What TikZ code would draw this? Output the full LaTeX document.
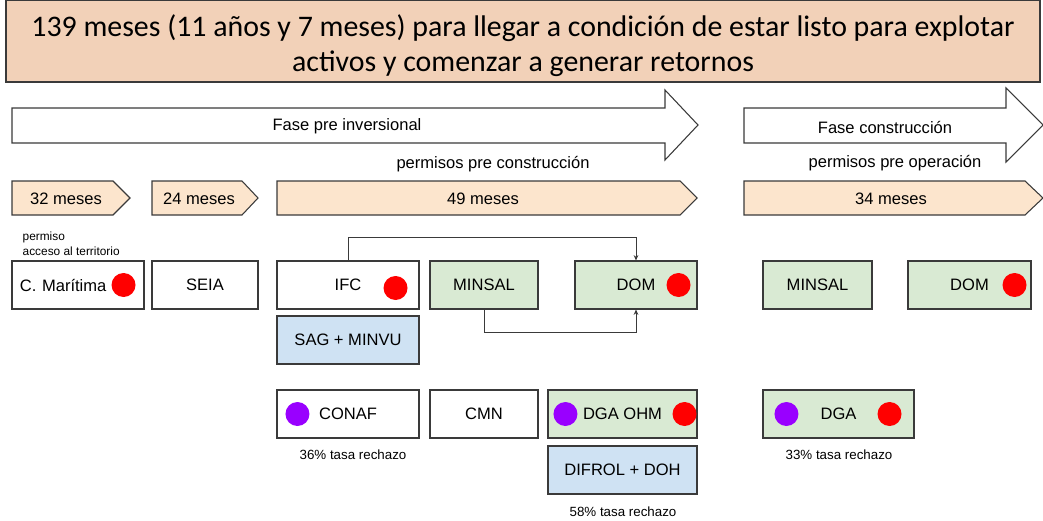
\documentclass[tikz,border=0pt]{standalone}
\usepackage{fontspec}
\setmainfont{Liberation Sans}
\newfontfamily\titlefont{Carlito}
\usetikzlibrary{positioning,arrows.meta,calc}
\definecolor{titulo}{HTML}{F2D1B8}
\definecolor{naranjo}{HTML}{FCE5CD}
\definecolor{verde}{HTML}{D9EAD3}
\definecolor{celeste}{HTML}{CFE2F3}
\definecolor{lila}{HTML}{9900FF}
\definecolor{borde}{HTML}{3A3A3A}

\begin{document}
\begin{tikzpicture}[
    x=0.75pt, y=-0.75pt,
    font=\fontsize{12.4}{14}\selectfont,
    sz/.style 2 args={minimum width=#1*0.75pt, minimum height=#2*0.75pt},
    caja/.style={draw=borde, line width=0.8pt, fill=white, inner sep=0pt},
    cverde/.style={caja, fill=verde},
    cazul/.style={caja, fill=celeste},
    flecha/.style={draw=borde, line width=0.8pt, fill=white, line join=miter},
    chev/.style={draw=borde, line width=0.8pt, fill=naranjo},
    rojo/.style={circle, fill=red, minimum size=18pt, inner sep=0pt},
    morado/.style={circle, fill=lila, minimum size=18pt, inner sep=0pt},
    nota/.style={font=\fontsize{10}{12}\selectfont},
    op/.style={->, >={Stealth[length=4pt, width=3.5pt]}, draw=borde, line width=0.6pt},
  ]
  \useasboundingbox (0,0) rectangle (1043,521);

  % --- title ---
  \draw[draw=borde, line width=0.9pt, fill=titulo] (6,0.5) rectangle (1040,82);
  \node[align=center, font=\titlefont\fontsize{22.4}{26.25}\selectfont]
    (titulo) at (523,46)
    {139 meses (11 años y 7 meses) para llegar a condición de estar listo para explotar\\
     activos y comenzar a generar retornos};

  % --- phase arrows ---
  \draw[flecha] (12,108) -- (665,108) -- (665,90) -- (698,125) -- (665,160)
    -- (665,143) -- (12,143) -- cycle;
  \node (fase1) at (347,126) {Fase pre inversional};
  \draw[flecha] (744,108) -- (1006,108) -- (1006,88) -- (1043,125) -- (1006,162)
    -- (1006,143) -- (744,143) -- cycle;
  \node (fase2) at (885,127) {Fase construcción};

  \node (pcons) at (493,164) {permisos pre construcción};
  \node (poper) at (895,163) {permisos pre operación};

  % --- durations ---
  \draw[chev] (12,181) -- (113,181) -- (130,198) -- (113,215) -- (12,215) -- cycle;
  \node (m32) at (66,199) {32 meses};
  \draw[chev] (152,181) -- (242,181) -- (258,198) -- (242,215) -- (152,215) -- cycle;
  \node (m24) at (199,199) {24 meses};
  \draw[chev] (277,181) -- (680,181) -- (697,198) -- (680,215) -- (277,215) -- cycle;
  \node (m49) at (483,199) {49 meses};
  \draw[chev] (744,181) -- (1025,181) -- (1043,198) -- (1025,215) -- (744,215) -- cycle;
  \node (m34) at (891,199) {34 meses};

  \node[anchor=west, align=left, font=\fontsize{8.9}{11.25}\selectfont] (acceso)
    at (18,244) {permiso\\acceso al territorio};

  % --- permits, first row ---
  \node[caja, sz={132}{48}, text width=116*0.75pt, align=left] (cm) at (78,285)
    {C. Marítima};
  \node[caja, sz={106}{48}] (seia) at (205,285) {SEIA};
  \node[caja, sz={142}{48}] (ifc) at (348,285) {IFC};
  \node[cverde, sz={108}{48}] (minsal) at (484,285) {MINSAL};
  \node[cverde, sz={122}{48}] (dom) at (636,285) {DOM};
  \node[cverde, sz={109}{48}] (minsal2) at (817.5,285) {MINSAL};
  \node[cverde, sz={123}{48}] (dom2) at (969.5,285) {DOM};

  \node[rojo] (rcm) at ($(cm.east)+(-21,0)$) {};
  \node[rojo] (rifc) at ($(ifc.east)+(-24,3)$) {};
  \node[rojo] (rdom) at ($(dom.east)+(-19,0)$) {};
  \node[rojo] (rdom2) at ($(dom2.east)+(-17,0)$) {};

  \node[cazul, sz={142}{48}] (sag) at (348,340) {SAG + MINVU};

  \draw[op] (ifc.north) -- ++(0,-23) -| (dom.north);
  \draw[op] (minsal.south) -- ++(0,23) -| (dom.south);

  % --- permits, second row ---
  \node[caja, sz={142}{48}] (conaf) at (348,414) {CONAF};
  \node[caja, sz={108}{48}] (cmn) at (484,414) {CMN};
  \node[cverde, sz={149}{48}] (dgaohm) at (622.5,414) {DGA OHM};
  \node[cverde, sz={151}{48}] (dga) at (838.5,414) {DGA};
  \node[cazul, sz={149}{48}] (difrol) at (622.5,470) {DIFROL + DOH};

  \node[morado] (pconaf) at ($(conaf.west)+(21,0)$) {};
  \node[morado] (pdgaohm) at ($(dgaohm.west)+(18,0)$) {};
  \node[rojo] (rdgaohm) at ($(dgaohm.east)+(-13,0)$) {};
  \node[morado] (pdga) at ($(dga.west)+(24,0)$) {};
  \node[rojo] (rdga) at ($(dga.east)+(-25,0)$) {};

  \node[nota] (t36) at (353,455) {36\% tasa rechazo};
  \node[nota] (t58) at (623,512) {58\% tasa rechazo};
  \node[nota] (t33) at (839,455) {33\% tasa rechazo};
\end{tikzpicture}
\end{document}
